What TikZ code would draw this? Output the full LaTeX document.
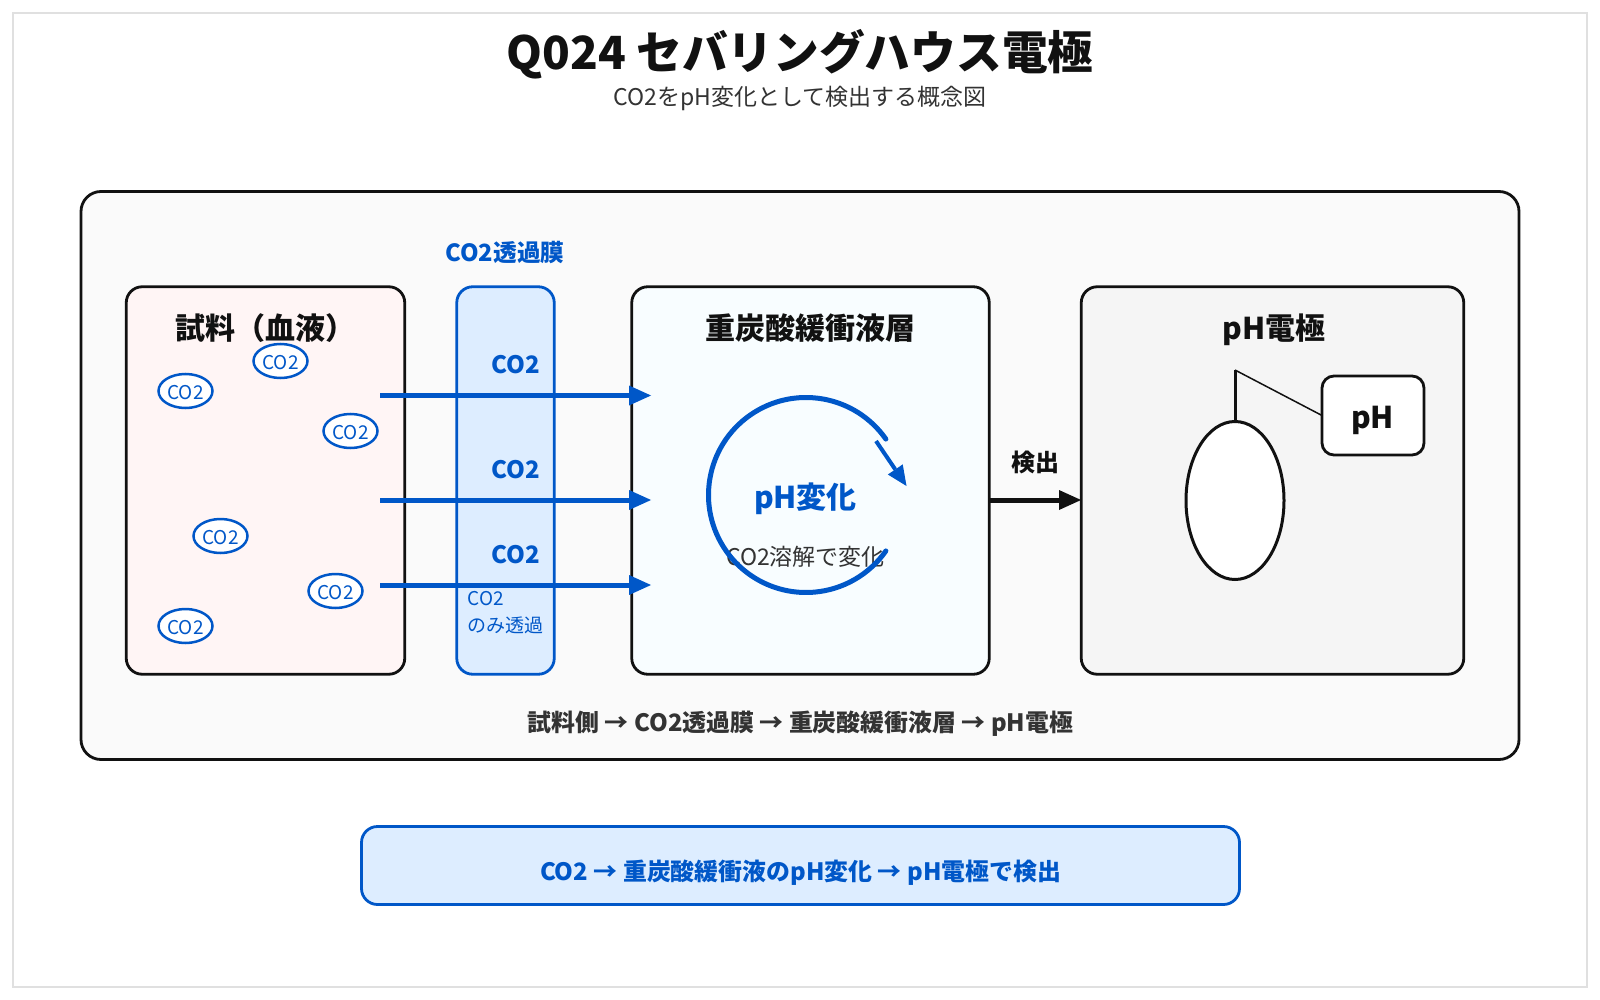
\documentclass[tikz,border=0pt]{standalone}
\usepackage{fontspec}
\setmainfont{Noto Sans CJK JP}
\usetikzlibrary{arrows.meta,shapes.geometric}
\definecolor{blu}{HTML}{0057C8}
\definecolor{ink}{HTML}{111111}
\definecolor{gry}{HTML}{333333}
\tikzset{
  x=1pt,y=-1pt,
  txt/.style={inner sep=0,anchor=base,font=\fontsize{#1}{#1}\selectfont},
  btxt/.style={inner sep=0,anchor=base,font=\fontsize{#1}{#1}\selectfont\bfseries},
  panel/.style={draw=ink,line width=2.8pt,rounded corners=16pt,inner sep=0},
  molec/.style={ellipse,draw=blu,line width=2.5pt,fill=white,inner sep=0,minimum width=54pt,minimum height=34pt,text=blu,text height=16.2pt,text depth=0pt,font=\fontsize{19}{19}\selectfont},
  flow/.style={draw=blu,line width=5pt,-{Triangle[length=22pt,width=20pt,line width=0pt]}},
}
\begin{document}
\begin{tikzpicture}
\path[use as bounding box,fill=white] (0,0) rectangle (1600,1000);
\node[draw=black!12,line width=2pt,minimum width=1574pt,minimum height=974pt,inner sep=0] (frame) at (800,500) {};
\node[btxt=45.7,text=ink] (title) at (800,69.5) {Q024 セバリングハウス電極};
\node[txt=23,text=gry] (sub) at (800,105.8) {CO2をpH変化として検出する概念図};
\node[panel,fill=black!2,rounded corners=20pt,minimum width=1438pt,minimum height=568pt] (main) at (800,475.5) {};
\node[panel,fill={rgb,255:red,255;green,245;blue,245},minimum width=278.5pt,minimum height=387.5pt] (sample) at (265.5,480.5) {};
\node[panel,draw=blu,fill={rgb,255:red,221;green,237;blue,255},minimum width=97.5pt,minimum height=387.5pt] (memb) at (505.5,480.5) {};
\node[panel,fill={rgb,255:red,248;green,253;blue,255},minimum width=357.5pt,minimum height=387.5pt] (buf) at (810.5,480.5) {};
\node[panel,fill={rgb,255:red,245;green,245;blue,245},minimum width=382.5pt,minimum height=387.5pt] (elec) at (1272.5,480.5) {};
\node[btxt=30,text=ink] (lsample) at (265,339.2) {試料（血液）};
\node[btxt=23.7,text=blu] (lmemb) at (505,261.5) {CO2透過膜};
\node[btxt=30,text=ink] (lbuf) at (810,339) {重炭酸緩衝液層};
\node[btxt=30,text=ink] (lelec) at (1274,339) {pH電極};
\node[molec] (m1) at (185.5,391) {CO2};
\node[molec] (m2) at (280.5,361) {CO2};
\node[molec] (m3) at (350.5,431) {CO2};
\node[molec] (m4) at (220.5,536) {CO2};
\node[molec] (m5) at (335.5,591) {CO2};
\node[molec] (m6) at (185.5,626) {CO2};
\node[btxt=24,text=blu] (c1) at (515.5,373) {CO2};
\node[btxt=24,text=blu] (c2) at (515.5,478) {CO2};
\node[btxt=24,text=blu] (c3) at (515.5,563) {CO2};
\node[txt=19,text=blu,anchor=base west] (n1) at (467.5,605) {CO2};
\node[txt=19,text=blu,anchor=base west] (n2) at (467.5,632) {のみ透過};
\coordinate (a1s) at (380,395.5); \coordinate (a1e) at (651,395.5);
\coordinate (a2s) at (380,500); \coordinate (a2e) at (651,500);
\coordinate (a3s) at (380,585); \coordinate (a3e) at (651,585);
\draw[flow] (a1s) -- (a1e);
\draw[flow] (a2s) -- (a2e);
\draw[flow] (a3s) -- (a3e);
\coordinate (cc) at (806,495);
\node[btxt=30,text=blu] (ph1) at (805.5,508) {pH変化};
\node[txt=23,text=gry] (ph2) at (805.5,565.5) {CO2溶解で変化};
\draw[draw=blu,line width=5pt,line cap=round] (cc) ++(-35:97.5) arc[start angle=-35,end angle=-325,radius=97.5];
\coordinate (r1) at (876,441); \coordinate (r2) at (906.5,486);
\draw[draw=blu,line width=4pt,-{Triangle[length=20pt,width=18pt,line width=0pt]}] (r1) -- (r2);
\node[btxt=24,text=ink] (det) at (1035,471) {検出};
\coordinate (d1) at (990,500); \coordinate (d2) at (1081,500);
\draw[draw=ink,line width=5pt,-{Triangle[length=22pt,width=20pt,line width=0pt]}] (d1) -- (d2);
\node[ellipse,draw=ink,line width=3pt,fill=white,inner sep=0,minimum width=98pt,minimum height=158pt] (bulb) at (1235,500.5) {};
\node[panel,rounded corners=12pt,fill=white,minimum width=102pt,minimum height=79pt] (meter) at (1373,415.5) {};
\node[btxt=30,text=ink] (lph) at (1372.5,428) {pH};
\coordinate (wire) at (1235,370);
\draw[ink,line width=3pt] (bulb.north) -- (wire);
\coordinate (wireb) at (1322,415.5);
\draw[ink,line width=1.5pt] (wire) -- (wireb);
\node[btxt=23.9,text=gry] (cap) at (800.5,731) {試料側 → CO2透過膜 → 重炭酸緩衝液層 → pH電極};
\node[panel,draw=blu,fill={rgb,255:red,221;green,237;blue,255},minimum width=878pt,minimum height=78pt] (sum) at (800.5,865.5) {};
\node[btxt=23.9,text=blu] (lsum) at (800.5,880) {CO2 → 重炭酸緩衝液のpH変化 → pH電極で検出};
\end{tikzpicture}
\end{document}
